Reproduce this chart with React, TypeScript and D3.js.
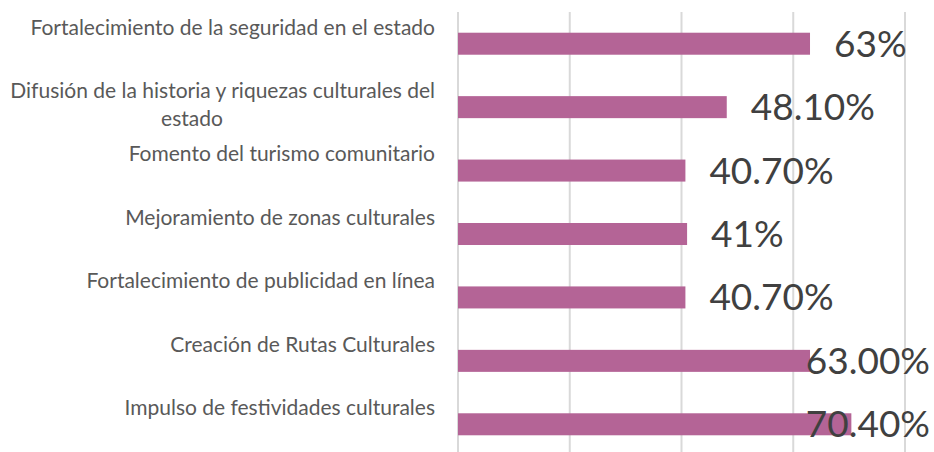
import React from "react";
import * as d3 from "d3";

const categories = [
  "Fortalecimiento de la seguridad en el estado",
  "Difusión de la historia y riquezas culturales del|estado",
  "Fomento del turismo comunitario",
  "Mejoramiento de zonas culturales",
  "Fortalecimiento de publicidad en línea",
  "Creación de Rutas Culturales",
  "Impulso de festividades culturales",
];
const values = [63, 48.1, 40.7, 41, 40.7, 63, 70.4];
const valueLabels = ["63%", "48.10%", "40.70%", "41%", "40.70%", "63.00%", "70.40%"];
const xTicks = [0, 20, 40, 60, 80];

const W = 934;
const H = 452;
const plotLeft = 458;
const plotRight = 905;
const plotTop = 12;
const plotBottom = 456;

export default function App() {
  const x = d3.scaleLinear().domain([0, 80]).range([plotLeft, plotRight]);
  const p = 0.653;
  const y = d3
    .scaleBand<string>()
    .domain(categories)
    .range([plotTop, plotBottom])
    .paddingInner(p)
    .paddingOuter(p / 2);
  const catFont = "Lato, 'Open Sans', sans-serif";
  const lineH = 28;
  const labelRight = 435;
  const maxRight = 930;
  const gap = 24;

  return (
    <svg
      width={W}
      height={H}
      style={{ position: "absolute", left: 0, top: 0, background: "#fff" }}
    >
      <rect x={0} y={0} width={W} height={H} fill="#fff" />
      {xTicks.map((t) => (
        <line
          key={t}
          x1={x(t)}
          x2={x(t)}
          y1={plotTop}
          y2={H}
          stroke="#d9d9d9"
          strokeWidth={2}
        />
      ))}
      {categories.map((c, i) => {
        const cy = (y(c) as number) + y.bandwidth() / 2;
        const lines = c.split("|");
        const blockCenter = cy - 2.5;
        return (
          <g key={c}>
            <rect
              x={x(0)}
              y={y(c)}
              width={x(values[i]) - x(0)}
              height={y.bandwidth()}
              fill="#b46496"
            />
            {lines.map((ln, j) => (
              <text
                key={j}
                x={j === 0 ? labelRight : 192}
                y={blockCenter - lineH / 2 + j * lineH}
                dy="0.35em"
                textAnchor={j === 0 ? "end" : "middle"}
                fontFamily={catFont}
                fontSize={21}
                fill="#595959"
              >
                {ln}
              </text>
            ))}
          </g>
        );
      })}
      {categories.map((c, i) => {
        const cy = (y(c) as number) + y.bandwidth() / 2;
        const startX = x(values[i]) + gap;
        const approxW = valueLabels[i].length * 20.8;
        const overflow = startX + approxW > maxRight;
        return (
          <text
            key={"v" + i}
            x={overflow ? maxRight : startX}
            y={cy + 13}
            textAnchor={overflow ? "end" : "start"}
            fontFamily={catFont}
            fontSize={37}
            fill="#404040"
          >
            {valueLabels[i]}
          </text>
        );
      })}
    </svg>
  );
}
